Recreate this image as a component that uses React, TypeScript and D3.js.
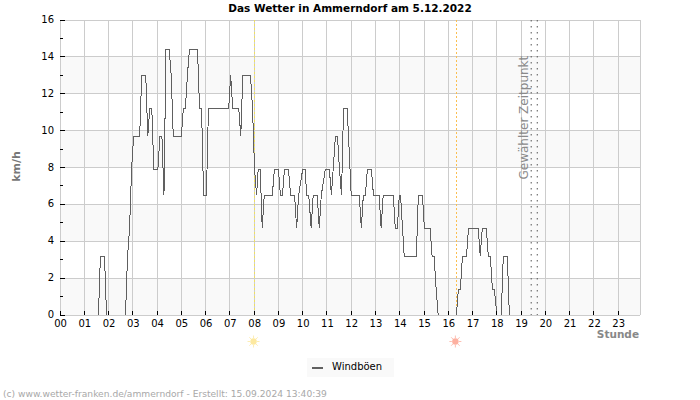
import { useEffect, useRef } from "react";
import * as d3 from "d3";

const gustMinutes = [
	0, 95, 100, 110, 115, 162, 167, 172, 177, 182, 197, 202, 212, 217, 222, 227, 232, 242, 247, 252, 257, 262, 270, 275,
	280, 300, 305, 310, 315, 320, 340, 345, 350, 355, 362, 367, 417, 422, 427, 442, 447, 452, 471, 476, 481, 486, 490,
	495, 500, 505, 525, 530, 540, 545, 550, 555, 565, 570, 580, 585, 590, 600, 606, 610, 615, 621, 626, 636, 641, 646,
	656, 666, 671, 681, 686, 691, 696, 701, 710, 715, 720, 740, 745, 750, 755, 760, 770, 775, 789, 794, 799, 824, 829,
	834, 839, 842, 851, 856, 881, 886, 896, 901, 915, 920, 925, 930, 935, 980, 985, 990, 995, 1005, 1010, 1034, 1039,
	1044, 1054, 1059, 1064, 1069, 1074, 1080, 1091, 1096, 1106, 1111, 1165,
];
const gustValues = [
	0, 0, 3.2, 3.2, 0, 0, 3.2, 4.7, 7.9, 9.7, 9.7, 13, 13, 9.7, 11.2, 11.2, 7.9, 7.9, 9.7, 9.7, 6.5, 14.4, 14.4, 13,
	9.7, 9.7, 11.2, 11.2, 13, 14.4, 14.4, 11.2, 11.2, 6.5, 6.5, 11.2, 11.2, 13, 11.2, 11.2, 9.7, 13, 13, 11.2, 7.9, 6.5,
	7.9, 7.9, 4.7, 6.5, 6.5, 7.9, 7.9, 6.5, 6.5, 7.9, 7.9, 6.5, 6.5, 4.7, 6.5, 7.9, 7.9, 6.5, 6.5, 4.7, 6.5, 6.5, 4.7,
	6.5, 7.9, 7.9, 6.5, 9.7, 9.7, 7.9, 6.5, 11.2, 11.2, 8.9, 6.5, 6.5, 4.7, 6.5, 6.5, 7.9, 7.9, 6.5, 6.5, 4.7, 6.5,
	6.5, 4.7, 4.7, 6.5, 6.5, 3.2, 3.2, 3.2, 6.5, 6.5, 4.7, 4.7, 3.2, 3.2, 1.4, 0, 0, 1.4, 1.4, 3.2, 3.2, 4.7, 4.7, 3.2,
	4.7, 4.7, 3.2, 3.2, 1.4, 1.4, 0, 0, 3.2, 3.2, 0, 0,
];
const hourLabels = d3.range(24).map((h) => String(h).padStart(2, "0"));
const yTicks = d3.range(0, 17);
const sunMinutes = [
	{ at: 481, line: "#f0e060", core: "#fde9a0" },
	{ at: 980, line: "#fbbf50", core: "#fdb0a0" },
];
const selectedMinutes = [1165, 1180];

const FONT = "'DejaVu Sans', sans-serif";

const App = () => {
	const svgRef = useRef<SVGSVGElement>(null);

	useEffect(() => {
		if (!svgRef.current) return;

		const svg = d3.select(svgRef.current);
		svg.selectAll("*").remove();

		const x = d3.scaleLinear().domain([0, 1435]).range([60, 640.4]);
		const y = d3.scaleLinear().domain([0, 16]).range([315, 20]);

		// Streifen im Hintergrund
		svg
			.selectAll(".band")
			.data([0, 4, 8, 12])
			.enter()
			.append("rect")
			.attr("x", x(0))
			.attr("y", (d) => y(d + 2))
			.attr("width", x(1435) - x(0))
			.attr("height", (d) => y(d) - y(d + 2))
			.attr("fill", "#f9f9f9");

		// Gitter
		const grid = svg.append("g").attr("stroke", "#cccccc").attr("shape-rendering", "crispEdges");
		hourLabels.forEach((_h, i) => {
			grid.append("line").attr("x1", x(i * 60)).attr("x2", x(i * 60)).attr("y1", y(0)).attr("y2", y(16));
		});
		d3.range(0, 17, 2).forEach((v) => {
			grid.append("line").attr("x1", x(0)).attr("x2", x(1435)).attr("y1", y(v)).attr("y2", y(v));
		});
		grid.append("line").attr("x1", x(1435)).attr("x2", x(1435)).attr("y1", y(0)).attr("y2", y(16));

		// Sonnenauf- und -untergang
		sunMinutes.forEach((s) => {
			svg
				.append("line")
				.attr("x1", x(s.at))
				.attr("x2", x(s.at))
				.attr("y1", y(16))
				.attr("y2", y(0))
				.attr("stroke", s.line)
				.attr("stroke-dasharray", "2,2")
				.attr("shape-rendering", "crispEdges");

			const sun = svg.append("g").attr("transform", `translate(${x(s.at) - 1},341.5)`);
			d3.range(8).forEach((k) => {
				const a = (k * Math.PI) / 4;
				sun
					.append("line")
					.attr("x1", Math.cos(a) * 3.5)
					.attr("y1", Math.sin(a) * 3.5)
					.attr("x2", Math.cos(a) * 6)
					.attr("y2", Math.sin(a) * 6)
					.attr("stroke", s.core)
					.attr("stroke-opacity", 0.8)
					.attr("stroke-width", 1);
			});
			sun.append("circle").attr("r", 3.2).attr("fill", s.core);
		});

		// Gewählter Zeitpunkt
		selectedMinutes.forEach((m) => {
			svg
				.append("line")
				.attr("x1", x(m))
				.attr("x2", x(m))
				.attr("y1", y(16))
				.attr("y2", y(0))
				.attr("stroke", "#555")
				.attr("stroke-dasharray", "1.5,4.5");
		});
		svg
			.append("text")
			.attr("transform", "translate(528,179.5) rotate(-90)")
			.attr("font-family", FONT)
			.attr("font-size", 12)
			.attr("fill", "#8a8a8a")
			.text("Gewählter Zeitpunkt");

		// Windböen
		const line = d3
			.line<number>()
			.x((_d, i) => x(gustMinutes[i]))
			.y((d) => y(d));
		svg
			.append("path")
			.datum(gustValues)
			.attr("d", line)
			.attr("fill", "none")
			.attr("stroke", "#606060")
			.attr("stroke-width", 1)
			.attr("shape-rendering", "crispEdges");

		// Achsen ueber der Linie
		const axes = svg.append("g").attr("shape-rendering", "crispEdges");
		axes.append("line").attr("x1", x(0)).attr("x2", x(1435)).attr("y1", y(0)).attr("y2", y(0)).attr("stroke", "#cccccc");
		axes.append("line").attr("x1", x(0)).attr("x2", x(0)).attr("y1", y(0)).attr("y2", y(16)).attr("stroke", "#cccccc");
		hourLabels.forEach((_h, i) => {
			axes
				.append("line")
				.attr("x1", x(i * 60))
				.attr("x2", x(i * 60))
				.attr("y1", y(0))
				.attr("y2", y(0) - 4)
				.attr("stroke", "#000");
		});
		yTicks.forEach((v) => {
			axes
				.append("line")
				.attr("x1", x(0))
				.attr("x2", x(0) + (v % 2 === 0 ? 5 : 3))
				.attr("y1", y(v))
				.attr("y2", y(v))
				.attr("stroke", "#000");
		});

		// Beschriftung
		const labels = svg.append("g").attr("font-family", FONT).attr("font-size", 10).attr("fill", "#000");
		hourLabels.forEach((h, i) => {
			labels
				.append("text")
				.attr("x", x(i * 60) + 0.5)
				.attr("y", 327)
				.attr("text-anchor", "middle")
				.text(h);
		});
		yTicks
			.filter((v) => v % 2 === 0)
			.forEach((v) => {
				labels
					.append("text")
					.attr("x", 54)
					.attr("y", y(v) + 3)
					.attr("text-anchor", "end")
					.text(v);
			});

		svg
			.append("text")
			.attr("x", 350)
			.attr("y", 12)
			.attr("text-anchor", "middle")
			.attr("font-family", FONT)
			.attr("font-size", 10.5)
			.attr("font-weight", "bold")
			.text("Das Wetter in Ammerndorf am 5.12.2022");

		svg
			.append("text")
			.attr("transform", "translate(19.5,166.5) rotate(-90)")
			.attr("text-anchor", "middle")
			.attr("font-family", FONT)
			.attr("font-size", 11)
			.attr("font-weight", "bold")
			.attr("fill", "#777")
			.text("km/h");

		svg
			.append("text")
			.attr("x", 639)
			.attr("y", 338)
			.attr("text-anchor", "end")
			.attr("font-family", FONT)
			.attr("font-size", 10.5)
			.attr("font-weight", "bold")
			.attr("fill", "#888")
			.text("Stunde");

		// Legende
		const legend = svg.append("g");
		legend.append("rect").attr("x", 307).attr("y", 358).attr("width", 87).attr("height", 19).attr("fill", "#f9f9f9");
		legend
			.append("line")
			.attr("x1", 312)
			.attr("x2", 323)
			.attr("y1", 367.5)
			.attr("y2", 367.5)
			.attr("stroke", "#606060")
			.attr("stroke-width", 2)
			.attr("shape-rendering", "crispEdges");
		legend
			.append("text")
			.attr("x", 332)
			.attr("y", 370)
			.attr("font-family", FONT)
			.attr("font-size", 10)
			.attr("fill", "#000")
			.text("Windböen");

		svg
			.append("text")
			.attr("x", 3)
			.attr("y", 396.5)
			.attr("font-family", FONT)
			.attr("font-size", 9.15)
			.attr("fill", "#a8a8a8")
			.text("(c) www.wetter-franken.de/ammerndorf - Erstellt: 15.09.2024 13:40:39");
	}, []);

	return <svg ref={svgRef} width={700} height={400} style={{ position: "absolute", left: 0, top: 0, background: "#fff" }}></svg>;
};

export default App;
